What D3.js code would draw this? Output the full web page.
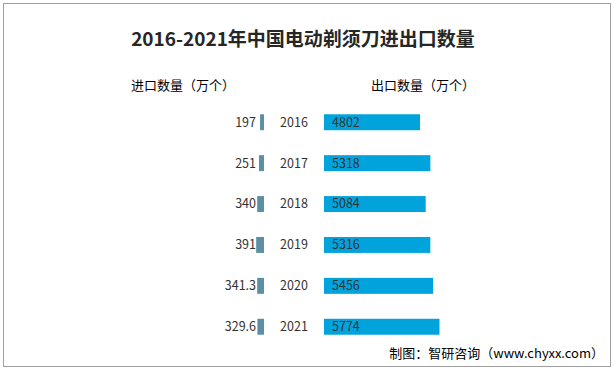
<!DOCTYPE html>
<html lang="zh">
<head>
<meta charset="utf-8">
<title>电动剃须刀进出口数量</title>
<script src="https://cdn.jsdelivr.net/npm/d3@7"></script>
<style>
  body{margin:0;background:#fff;}
  text{font-family:"Noto Sans CJK SC","Noto Sans",sans-serif;fill:#333;}
</style>
</head>
<body>
<div id="chart"></div>
<script>
var years = ["2016","2017","2018","2019","2020","2021"]
var imports = [197,251,340,391,341.3,329.6]
var exports = [4802,5318,5084,5316,5456,5774]
var importLabels = ["197","251","340","391","341.3","329.6"]

var W = 614, H = 371
var svg = d3.select("#chart").append("svg").attr("width",W).attr("height",H)

// outer frame
svg.append("rect").attr("x",3.5).attr("y",3.5).attr("width",607).attr("height",363)
  .attr("fill","none").attr("stroke","#a0a0a0").attr("stroke-width",1)

svg.append("text").attr("x",303).attr("y",46).attr("text-anchor","middle")
  .attr("font-size",19).attr("font-weight","bold").style("fill","#262626")
  .text("2016-2021年中国电动剃须刀进出口数量")

svg.append("text").attr("x",131).attr("y",90).attr("font-size",13).style("fill","#000")
  .text("进口数量（万个）")
svg.append("text").attr("x",371).attr("y",90).attr("font-size",13).style("fill","#000")
  .text("出口数量（万个）")

var y = d3.scaleBand().domain(years).range([102,347]).paddingInner(0.61).paddingOuter(0.3)
// same scale for both sides: about 0.02 px per unit
var xr = d3.scaleLinear().domain([0,6000]).range([324,444])
var xl = d3.scaleLinear().domain([0,6000]).range([264,144])

svg.selectAll(".imp").data(imports).enter().append("rect")
  .attr("class","imp")
  .attr("x",function(d){ return xl(d) })
  .attr("y",function(d,i){ return y(years[i]) })
  .attr("width",function(d){ return xl(0)-xl(d) })
  .attr("height",y.bandwidth())
  .attr("fill","#5b8fa6")

svg.selectAll(".exp").data(exports).enter().append("rect")
  .attr("class","exp")
  .attr("x",xr(0))
  .attr("y",function(d,i){ return y(years[i]) })
  .attr("width",function(d){ return xr(d)-xr(0) })
  .attr("height",y.bandwidth())
  .attr("fill","#00a3dc")

svg.selectAll(".implab").data(importLabels).enter().append("text")
  .attr("x",256)
  .attr("y",function(d,i){ return y(years[i])+y.bandwidth()/2 })
  .attr("dy","0.35em").attr("text-anchor","end").attr("font-size",12.5)
  .text(function(d){ return d })

svg.selectAll(".yr").data(years).enter().append("text")
  .attr("x",294)
  .attr("y",function(d){ return y(d)+y.bandwidth()/2 })
  .attr("dy","0.35em").attr("text-anchor","middle").attr("font-size",12.5)
  .text(function(d){ return d })

svg.selectAll(".explab").data(exports).enter().append("text")
  .attr("x",332)
  .attr("y",function(d,i){ return y(years[i])+y.bandwidth()/2 })
  .attr("dy","0.35em").attr("font-size",12.5)
  .text(function(d){ return d })

svg.append("text").attr("x",604).attr("y",358).attr("text-anchor","end")
  .attr("font-size",13).style("fill","#000")
  .text("制图：智研咨询（www.chyxx.com）")
</script>
</body>
</html>
